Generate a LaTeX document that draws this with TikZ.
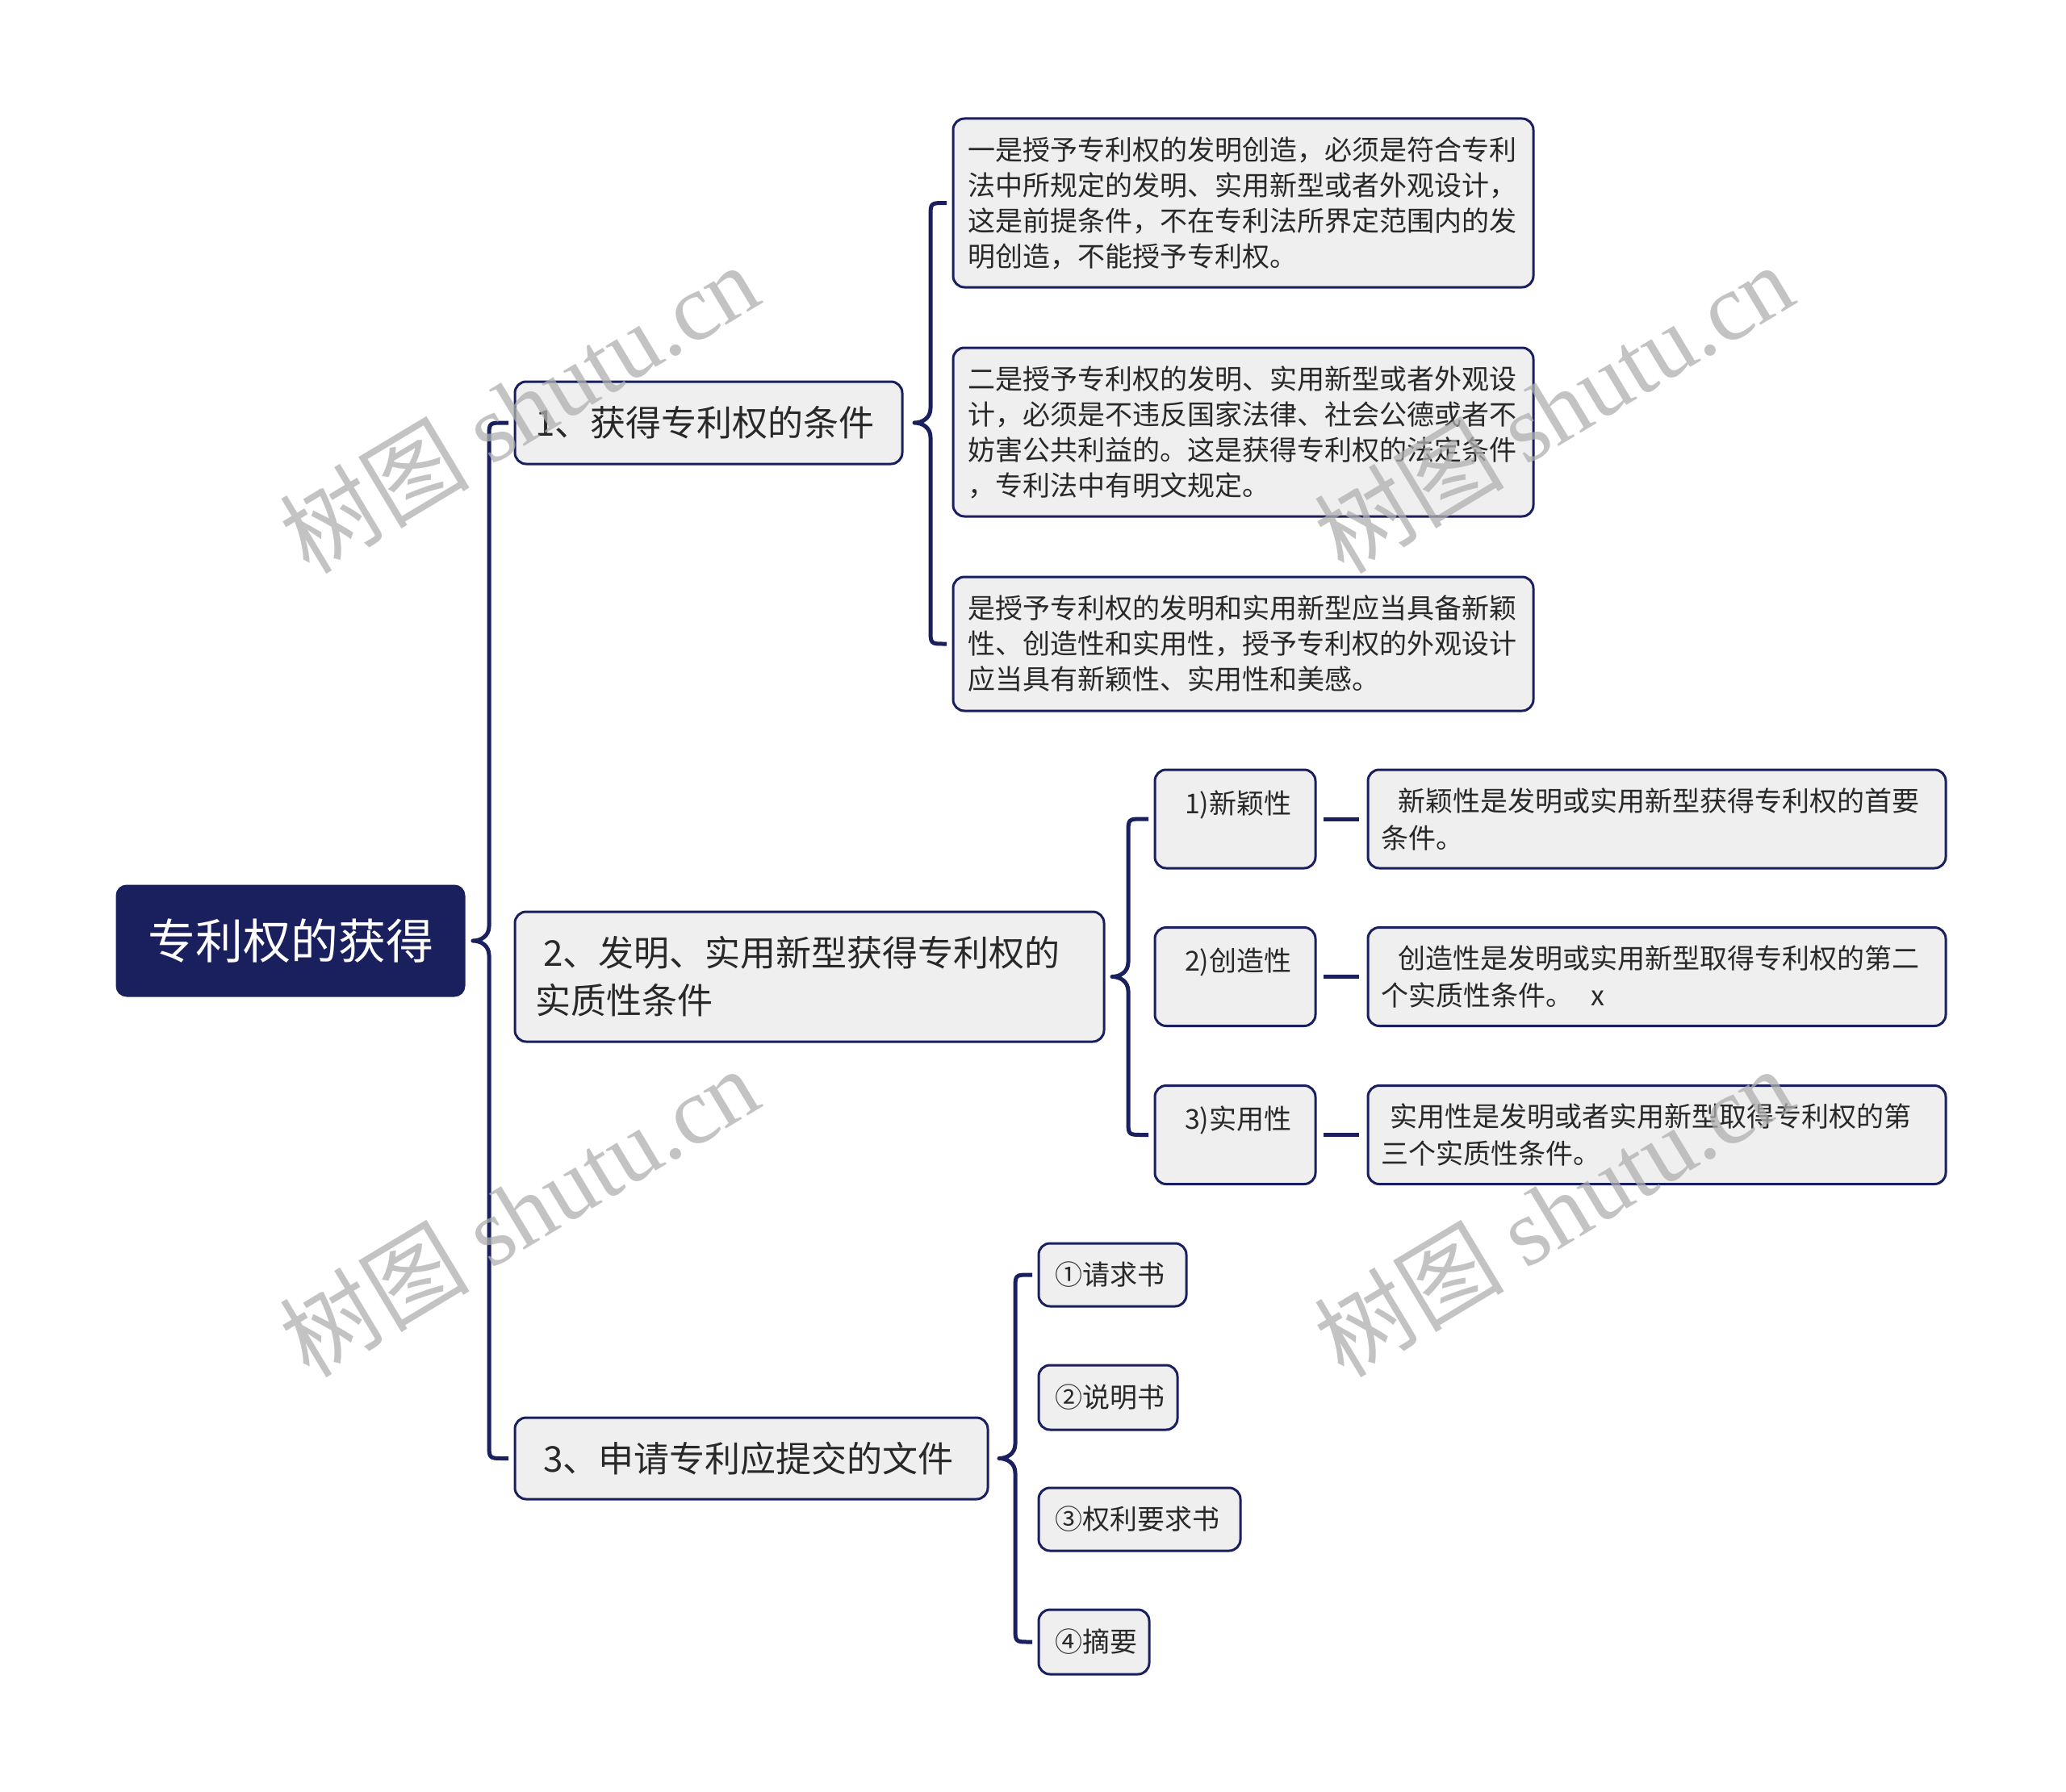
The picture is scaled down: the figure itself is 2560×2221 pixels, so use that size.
\documentclass[tikz,border=0pt]{standalone}
\usepackage{fontspec}
\setmainfont{Noto Sans CJK SC}
\newfontfamily\wmcjk{Noto Sans CJK SC}
\newfontfamily\wmlat{Liberation Serif}
\usetikzlibrary{calc}
\definecolor{navy}{RGB}{26,31,93}
\definecolor{boxfill}{RGB}{239,239,239}
\definecolor{txt}{RGB}{40,40,40}
\definecolor{wmgray}{RGB}{175,175,175}
\tikzset{
  conn/.style={draw=navy, line width=5pt, line join=round},
  link/.style={draw=navy, line width=5pt, shorten <=10pt, shorten >=11pt},
  box/.style={draw=navy, line width=3pt, fill=boxfill, rounded corners=14pt,
    outer sep=0pt, inner ysep=0pt, text=txt, align=left},
  rootbox/.style={draw=navy, line width=3pt, fill=navy, rounded corners=12pt,
    outer sep=0pt, inner sep=0pt, text=white, minimum width=430pt,
    minimum height=136pt, font=\fontsize{59pt}{70pt}\selectfont},
  branch/.style={box, inner xsep=25pt, font=\fontsize{44pt}{59pt}\selectfont},
  detail/.style={box, inner xsep=18pt, text width=683pt, minimum height=209pt,
    font=\fontsize{34pt}{44pt}\selectfont},
  desc/.style={box, inner xsep=16pt, text width=684pt, minimum height=122pt,
    font=\fontsize{34pt}{46pt}\selectfont},
  lab/.style={box, inner xsep=37pt, text width=125pt, minimum height=122pt,
    text height=30pt, text depth=44pt, font=\fontsize{34pt}{46pt}\selectfont},
  doc/.style={box, inner xsep=20pt, font=\fontsize{34pt}{44pt}\selectfont},
  wmark/.style={rotate=31, text=wmgray, opacity=0.75, inner sep=0pt,
    font=\fontsize{118pt}{118pt}\selectfont}
}
% brace from parent #1 to first child #2 and last child #3, tip gap #4
\newcommand\treebrace[4]{%
  \coordinate (#1-tip) at ([xshift=#4]#1.east);
  \coordinate (#1-x) at ([xshift=20pt]#1-tip);
  \draw[conn] ([xshift=-8pt]#2.west) -- ($(#2.west -| #1-x)+(18,0)$)
    .. controls (#2.west -| #1-x) .. ($(#2.west -| #1-x)+(0,18)$)
    -- ($(#1-tip -| #1-x)+(0,-18)$)
    .. controls ($(#1-tip -| #1-x)+(0,-6)$) and ($(#1-tip)+(10,0)$) .. (#1-tip)
    .. controls ($(#1-tip)+(10,0)$) and ($(#1-tip -| #1-x)+(0,6)$) .. ($(#1-tip -| #1-x)+(0,18)$)
    -- ($(#3.west -| #1-x)+(0,-18)$)
    .. controls (#3.west -| #1-x) .. ($(#3.west -| #1-x)+(18,0)$)
    -- ([xshift=-8pt]#3.west);%
}
\begin{document}
\begin{tikzpicture}[x=1pt,y=-1pt]
\fill[white] (0,0) rectangle (2560,2221);
\useasboundingbox (0,0) rectangle (2560,2221);

% root
\node[rootbox] (root) at (360,1166) {专利权的获得};

% main branches
\node[branch, text width=430pt, minimum height=102pt] (b1) at (878,524) {1、获得专利权的条件};
\node[branch, text width=680pt, minimum height=161pt] (b2) at (1003,1210.5)
  {\hspace*{10pt}2、发明、实用新型获得专利权的\\实质性条件};
\node[branch, text width=536pt, minimum height=101pt] (b3) at (931,1807.5)
  {\hspace*{10pt}3、申请专利应提交的文件};

% branch 1 children
\node[detail] (c1) at (1540.5,251.5)
  {一是授予专利权的发明创造，必须是符合专利\\法中所规定的发明、实用新型或者外观设计，\\这是前提条件，不在专利法所界定范围内的发\\明创造，不能授予专利权。};
\node[detail] (c2) at (1540.5,535.5)
  {二是授予专利权的发明、实用新型或者外观设\\计，必须是不违反国家法律、社会公德或者不\\妨害公共利益的。这是获得专利权的法定条件\\，专利法中有明文规定。};
\node[detail, minimum height=166pt] (c3) at (1540.5,798)
  {是授予专利权的发明和实用新型应当具备新颖\\性、创造性和实用性，授予专利权的外观设计\\应当具有新颖性、实用性和美感。};

% branch 2 children
\node[lab] (l1) at (1530.5,1015) {1)新颖性};
\node[lab] (l2) at (1530.5,1210.5) {2)创造性};
\node[lab] (l3) at (1530.5,1406.5) {3)实用性};
\node[desc] (d1) at (2053,1015)
  {\hspace*{21pt}新颖性是发明或实用新型获得专利权的首要\\条件。};
\node[desc] (d2) at (2053,1210.5)
  {\hspace*{21pt}创造性是发明或实用新型取得专利权的第二\\个实质性条件。\hspace*{22pt}x};
\node[desc] (d3) at (2053,1406.5)
  {\hspace*{11pt}实用性是发明或者实用新型取得专利权的第\\三个实质性条件。};

% branch 3 children
\node[doc, text width=143pt, minimum height=78pt] (k1) at (1378.5,1580) {①请求书};
\node[doc, text width=132pt, minimum height=80pt] (k2) at (1373,1732) {②说明书};
\node[doc, text width=210pt, minimum height=78pt] (k3) at (1412,1883) {③权利要求书};
\node[doc, text width=97pt, minimum height=80pt] (k4) at (1355.5,2035) {④摘要};

% connectors
\treebrace{root}{b1}{b3}{11pt}
\treebrace{b1}{c1}{c3}{15pt}
\treebrace{b2}{l1}{l3}{10pt}
\treebrace{b3}{k1}{k4}{14pt}
\draw[link] (l1.east) -- (d1.west);
\draw[link] (l2.east) -- (d2.west);
\draw[link] (l3.east) -- (d3.west);

% watermarks
\node[wmark] (wm1) at (643,505) {{\wmcjk 树图} {\wmlat shutu.cn}};
\node[wmark] (wm2) at (1925,505) {{\wmcjk 树图} {\wmlat shutu.cn}};
\node[wmark] (wm3) at (643,1501) {{\wmcjk 树图} {\wmlat shutu.cn}};
\node[wmark] (wm4) at (1925,1501) {{\wmcjk 树图} {\wmlat shutu.cn}};
\end{tikzpicture}
\end{document}
